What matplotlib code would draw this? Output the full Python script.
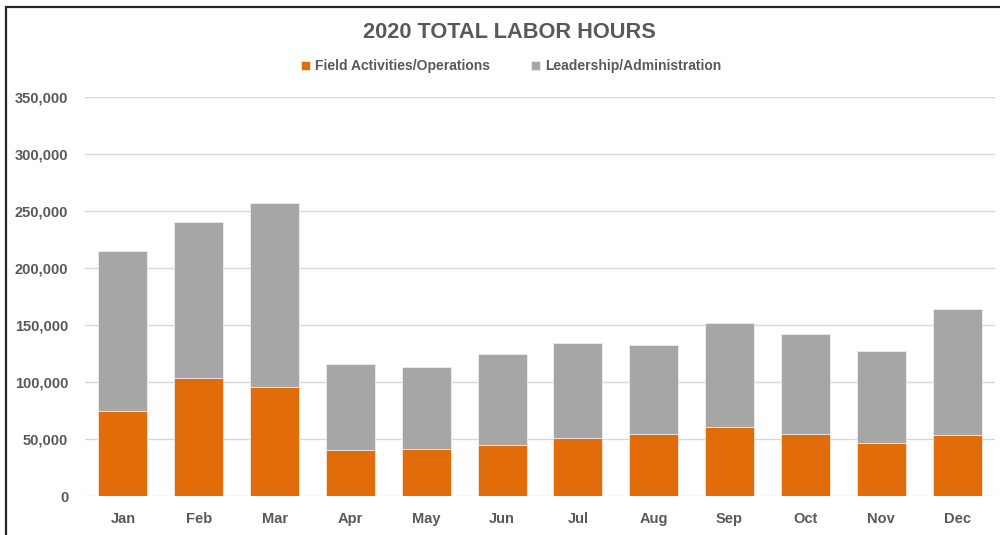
import matplotlib
matplotlib.use('Agg')
import matplotlib.pyplot as plt
from matplotlib.patches import Rectangle
from matplotlib.ticker import FuncFormatter

months = ['Jan', 'Feb', 'Mar', 'Apr', 'May', 'Jun', 'Jul', 'Aug', 'Sep', 'Oct', 'Nov', 'Dec']
field_ops = [75000, 104000, 95800, 40500, 41600, 45100, 51300, 54800, 60900, 54800, 46600, 53900]
totals = [215600, 241000, 257600, 116400, 113800, 124600, 134300, 133100, 152100, 142700, 127200, 164000]
leadership = [t - f for t, f in zip(totals, field_ops)]

orange = '#E36C0A'
grey = '#A6A6A6'
text_col = '#595959'

plt.rcParams['font.family'] = ['Liberation Sans', 'DejaVu Sans']

fig = plt.figure(figsize=(10, 5.35), dpi=100)
ax = fig.add_axes([0.085, 0.072, 0.91, 0.746])

x = range(len(months))
ax.bar(x, field_ops, width=0.646, color=orange, edgecolor='#f2f2f2', linewidth=0.5,
       label='Field Activities/Operations', zorder=3)
ax.bar(x, leadership, width=0.646, bottom=field_ops, color=grey, edgecolor='#f2f2f2',
       linewidth=0.5, label='Leadership/Administration', zorder=3)

ax.set_xlim(-0.5, len(months) - 0.5)
ax.set_ylim(0, 350000)
ax.set_yticks(range(0, 350001, 50000))
ax.yaxis.set_major_formatter(FuncFormatter(lambda v, p: '{:,.0f}'.format(v)))
ax.set_xticks(list(x))
ax.set_xticklabels(months)
ax.grid(axis='y', color='#d9d9d9', linewidth=1, zorder=0)
for s in ax.spines.values():
    s.set_visible(False)
ax.tick_params(length=0, colors=text_col, labelsize=10.5)
ax.tick_params(axis='y', pad=12)
ax.tick_params(axis='x', pad=11)
for lab in ax.get_xticklabels() + ax.get_yticklabels():
    lab.set_fontweight('bold')

fig.text(0.509, 0.94, '2020 TOTAL LABOR HOURS', ha='center', va='center',
         fontsize=15.7, fontweight='bold', color=text_col)
fig.legend(loc='center', bbox_to_anchor=(0.511, 0.876), ncol=2, frameon=False,
           handlelength=0.65, handleheight=0.65, handletextpad=0.4, columnspacing=2.9,
           prop={'weight': 'bold', 'size': 10}, labelcolor=text_col)

# outer frame (only top and left edges visible in the crop)
fig.add_artist(Rectangle((0.006, -0.1), 1.2, 0.1 + 0.987, transform=fig.transFigure,
                         fill=False, edgecolor='#262626', linewidth=1.6, clip_on=False))

fig.savefig('out.png', dpi=100, facecolor='white')
